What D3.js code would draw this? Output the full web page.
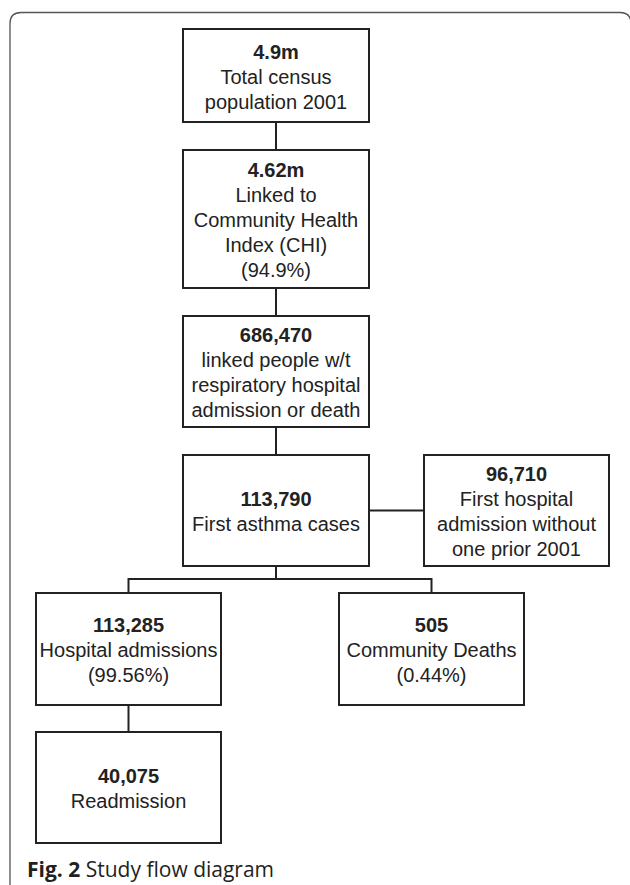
<!DOCTYPE html>
<html>
<head>
<meta charset="utf-8">
<script src="https://cdn.jsdelivr.net/npm/d3@7"></script>
<style>
  html, body { margin: 0; padding: 0; background: #fff; }
  svg { display: block; }
  .box-text { font-family: 'Liberation Sans', Arial, Helvetica, sans-serif; font-size: 20px; fill: #222; }
  .caption { font-family: 'Open Sans', 'Noto Sans', sans-serif; font-size: 21px; fill: #231f20; }
</style>
</head>
<body>
<div id="chart"></div>
<script>
// study flow: one entry per box, same order in every array
var nodeIds = ['census', 'chi', 'resp', 'asthma', 'noPrior', 'hosp', 'deaths', 'readmit'];
var counts = ['4.9m', '4.62m', '686,470', '113,790', '96,710', '113,285', '505', '40,075'];
var labels = [
  ['Total census', 'population 2001'],
  ['Linked to', 'Community Health', 'Index (CHI)', '(94.9%)'],
  ['linked people w/t', 'respiratory hospital', 'admission or death'],
  ['First asthma cases'],
  ['First hospital', 'admission without', 'one prior 2001'],
  ['Hospital admissions', '(99.56%)'],
  ['Community Deaths', '(0.44%)'],
  ['Readmission']
];
var links = [
  ['census', 'chi'],
  ['chi', 'resp'],
  ['resp', 'asthma'],
  ['asthma', 'noPrior'],
  ['asthma', 'hosp'],
  ['asthma', 'deaths'],
  ['hosp', 'readmit']
];
var captionBold = 'Fig. 2';
var captionText = 'Study flow diagram';

(function () {
  'use strict';
  var width = 630, height = 885;
  var lineH = 25;

  // layout grid (pixels) for the boxes
  var layout = {
    census:  { x0: 183, x1: 369, y0: 29,  y1: 122 },
    chi:     { x0: 183, x1: 369, y0: 150, y1: 288 },
    resp:    { x0: 183, x1: 369, y0: 316, y1: 427 },
    asthma:  { x0: 183, x1: 369, y0: 455, y1: 566 },
    noPrior: { x0: 424, x1: 609, y0: 455, y1: 566 },
    hosp:    { x0: 36,  x1: 221, y0: 593, y1: 705 },
    deaths:  { x0: 339, x1: 524, y0: 593, y1: 705 },
    readmit: { x0: 36,  x1: 221, y0: 732, y1: 843 }
  };
  var branchY = 579;

  var nodes = nodeIds.map(function (id, i) {
    var b = layout[id];
    return {
      id: id, count: counts[i], lines: labels[i],
      x0: b.x0, x1: b.x1, y0: b.y0, y1: b.y1,
      cx: (b.x0 + b.x1) / 2, cy: (b.y0 + b.y1) / 2
    };
  });
  var byId = {};
  nodes.forEach(function (n) { byId[n.id] = n; });

  var svg = d3.select('#chart').append('svg')
    .attr('width', width).attr('height', height);

  // outer figure frame, right side sits just past the page edge
  var r = 11, fx0 = 10, fy0 = 12.5, fx1 = 631;
  svg.append('path')
    .attr('d', 'M' + fx0 + ',' + height + ' L' + fx0 + ',' + (fy0 + r) +
      ' Q' + fx0 + ',' + fy0 + ' ' + (fx0 + r) + ',' + fy0 +
      ' L' + (fx1 - r) + ',' + fy0 +
      ' Q' + fx1 + ',' + fy0 + ' ' + fx1 + ',' + (fy0 + r) +
      ' L' + fx1 + ',' + height)
    .attr('fill', 'none')
    .attr('stroke', '#555')
    .attr('stroke-width', 1.3);

  function linkPath(l) {
    var s = byId[l[0]], t = byId[l[1]];
    if (Math.abs(s.cy - t.cy) < 1) {
      return 'M' + s.x1 + ',' + s.cy + ' H' + t.x0;
    }
    if (Math.abs(s.cx - t.cx) < 1) {
      return 'M' + s.cx + ',' + s.y1 + ' V' + t.y0;
    }
    return 'M' + s.cx + ',' + s.y1 + ' V' + branchY + ' H' + t.cx + ' V' + t.y0;
  }

  svg.append('g').selectAll('path')
    .data(links)
    .join('path')
    .attr('d', linkPath)
    .attr('fill', 'none')
    .attr('stroke', '#222')
    .attr('stroke-width', 2);

  var box = svg.append('g').selectAll('g')
    .data(nodes)
    .join('g');

  box.append('rect')
    .attr('x', function (d) { return d.x0; })
    .attr('y', function (d) { return d.y0; })
    .attr('width', function (d) { return d.x1 - d.x0; })
    .attr('height', function (d) { return d.y1 - d.y0; })
    .attr('fill', '#fff')
    .attr('stroke', '#222')
    .attr('stroke-width', 2);

  box.each(function (d) {
    var g = d3.select(this);
    var all = [d.count].concat(d.lines);
    var top = d.cy - (all.length - 1) * lineH / 2;
    all.forEach(function (txt, i) {
      g.append('text')
        .attr('class', 'box-text')
        .attr('x', d.cx)
        .attr('y', top + i * lineH + 8)
        .attr('text-anchor', 'middle')
        .style('font-weight', i === 0 ? 'bold' : 'normal')
        .text(txt);
    });
  });

  var cap = svg.append('text')
    .attr('class', 'caption')
    .attr('x', 27)
    .attr('y', 877);
  cap.append('tspan').style('font-weight', 'bold').text(captionBold);
  cap.append('tspan').text(' ' + captionText);
})();
</script>
</body>
</html>
